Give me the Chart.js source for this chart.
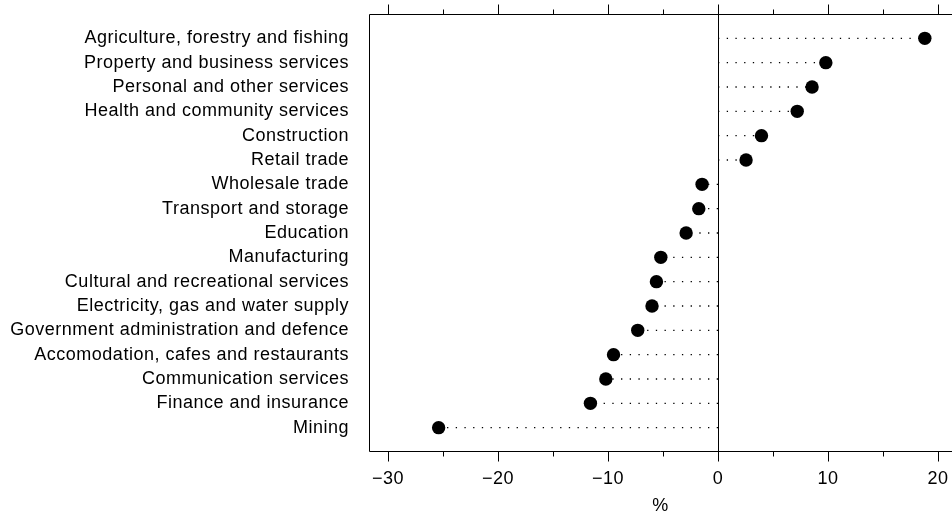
<!DOCTYPE html>
<html>
<head>
<meta charset="utf-8">
<script src="https://cdn.jsdelivr.net/npm/chart.js@4.4.1/dist/chart.umd.min.js"></script>
<style>
    html, body { margin: 0; padding: 0; background: #fff; overflow: hidden; }
</style>
</head>
<body>
<canvas id="chart" width="952" height="518"></canvas>
<script>
const categories = [
    "Agriculture, forestry and fishing",
    "Property and business services",
    "Personal and other services",
    "Health and community services",
    "Construction",
    "Retail trade",
    "Wholesale trade",
    "Transport and storage",
    "Education",
    "Manufacturing",
    "Cultural and recreational services",
    "Electricity, gas and water supply",
    "Government administration and defence",
    "Accomodation, cafes and restaurants",
    "Communication services",
    "Finance and insurance",
    "Mining",
];
const changes = [18.8, 9.8, 8.55, 7.2, 3.95, 2.55, -1.45, -1.75, -2.9, -5.2, -5.6, -6.0, -7.3, -9.5, -10.2, -11.6, -25.4];
const majorTicks = [-30, -20, -10, 0, 10, 20];
const minorTicks = [-25, -15, -5, 5, 15];
const xTitle = "%";

const FONT = "'Liberation Sans', Arial, Helvetica, sans-serif";

// dotted leader from 0 to each value
const leaders = categories.map((c, i) => ({
    data: [
        { x: 0, y: i + 1 },
        { x: changes[i], y: i + 1 },
    ],
    showLine: true,
    borderColor: "#000",
    borderWidth: 1.3,
    borderDash: [1.3, 7.4],
    pointRadius: 0,
    order: 2,
}));

// slightly wider text, the original labels run a bit wide
const spacingPlugin = {
    id: "spacing",
    beforeInit(chart) {
        chart.ctx.letterSpacing = "0.5px";
    },
    beforeDraw(chart) {
        chart.ctx.letterSpacing = "0.5px";
    },
};

// frame, zero line and tick marks (R style box, open on the right)
const framePlugin = {
    id: "frame",
    beforeDatasetsDraw(chart) {
        const { ctx, chartArea } = chart;
        const xs = chart.scales.x;
        const top = Math.round(chartArea.top) + 0.5;
        const bottom = Math.round(chartArea.bottom) - 0.5;
        const left = Math.round(chartArea.left) + 0.5;
        ctx.save();
        ctx.strokeStyle = "#000";
        ctx.lineWidth = 1;
        ctx.beginPath();
        ctx.moveTo(chartArea.right, top);
        ctx.lineTo(left, top);
        ctx.lineTo(left, bottom);
        ctx.lineTo(chartArea.right, bottom);
        const zx = Math.round(xs.getPixelForValue(0)) + 0.5;
        ctx.moveTo(zx, top);
        ctx.lineTo(zx, bottom);
        majorTicks.forEach((v) => {
            const px = Math.round(xs.getPixelForValue(v)) + 0.5;
            ctx.moveTo(px, top);
            ctx.lineTo(px, top - 10);
            ctx.moveTo(px, bottom);
            ctx.lineTo(px, bottom + 10);
        });
        minorTicks.forEach((v) => {
            const px = Math.round(xs.getPixelForValue(v)) + 0.5;
            ctx.moveTo(px, top);
            ctx.lineTo(px, top - 5);
            ctx.moveTo(px, bottom);
            ctx.lineTo(px, bottom + 5);
        });
        ctx.stroke();
        ctx.restore();
    },
};

function noPadding(scale) {
    scale.paddingTop = 0;
    scale.paddingBottom = 0;
    scale.paddingLeft = 0;
    scale.paddingRight = 0;
}

new Chart(document.getElementById("chart"), {
    type: "scatter",
    data: {
        datasets: [
            {
                data: categories.map((c, i) => ({ x: changes[i], y: i + 1 })),
                backgroundColor: "#000",
                borderColor: "#000",
                borderWidth: 0,
                pointRadius: 6.7,
                order: 1,
            },
            ...leaders,
        ],
    },
    options: {
        responsive: false,
        animation: false,
        events: [],
        layout: {
            autoPadding: false,
            padding: { top: 14, right: 0, bottom: 0, left: 0 },
        },
        scales: {
            x: {
                type: "linear",
                position: "bottom",
                min: -31.73,
                max: 21.27,
                afterBuildTicks: (scale) => {
                    scale.ticks = majorTicks.map((v) => ({ value: v }));
                },
                afterFit: (scale) => {
                    scale.height = 66;
                    noPadding(scale);
                },
                grid: { display: false, drawTicks: false },
                border: { display: false },
                ticks: {
                    color: "#000",
                    padding: 16,
                    maxRotation: 0,
                    font: { family: FONT, size: 18 },
                    callback: (v) => (v < 0 ? "\u2212" + Math.abs(v) : String(v)),
                },
                title: {
                    display: true,
                    text: xTitle,
                    color: "#000",
                    font: { family: FONT, size: 18 },
                    padding: { top: 0, bottom: 1 },
                },
            },
            y: {
                type: "linear",
                position: "left",
                reverse: true,
                min: 0,
                max: 18,
                afterBuildTicks: (scale) => {
                    scale.ticks = categories.map((c, i) => ({ value: i + 1 }));
                },
                afterFit: (scale) => {
                    scale.width = 369;
                    noPadding(scale);
                },
                grid: { display: false, drawTicks: false },
                border: { display: false },
                ticks: {
                    color: "#000",
                    padding: 20,
                    autoSkip: false,
                    font: { family: FONT, size: 18 },
                    callback: (v) => categories[v - 1] || "",
                },
            },
        },
        plugins: {
            legend: { display: false },
            tooltip: { enabled: false },
        },
    },
    plugins: [spacingPlugin, framePlugin],
});
</script>
</body>
</html>
